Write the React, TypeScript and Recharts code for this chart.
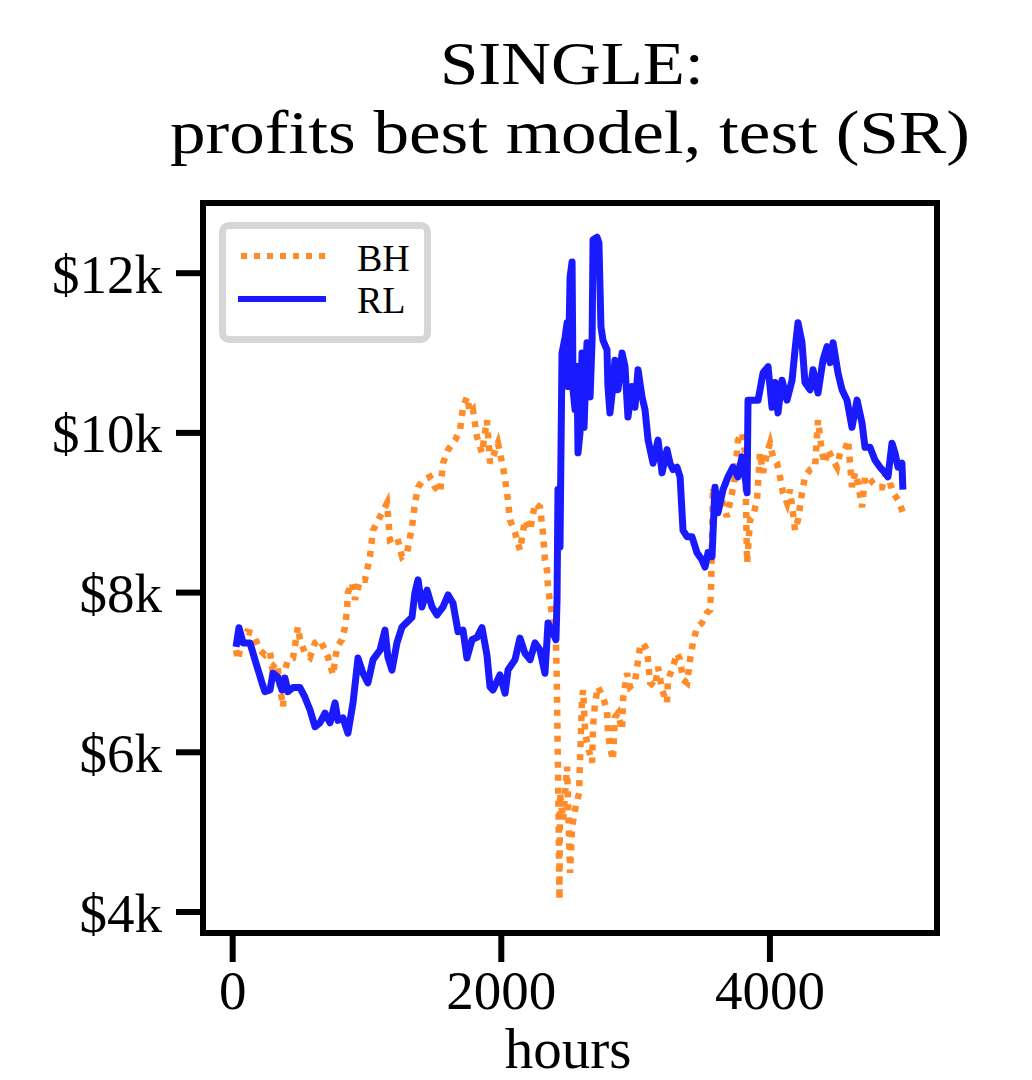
import React from 'react';
import { LineChart, Line, XAxis, YAxis } from 'recharts';

const FONT = '"Liberation Serif", "Times New Roman", serif';
const BH_COLOR = '#ff8c28';
const RL_COLOR = '#1a1aff';

// RL agent portfolio value
const rlHours = [
  25, 47, 77, 129, 166, 218, 240, 278, 300, 337,
  367, 389, 412, 449, 501, 538, 576, 613, 650, 687,
  725, 762, 784, 821, 858, 896, 933, 970, 1007, 1045,
  1097, 1134, 1156, 1186, 1223, 1261, 1298, 1335, 1357, 1380,
  1409, 1447, 1484, 1521, 1566, 1604, 1640, 1678, 1715, 1744,
  1782, 1819, 1856, 1893, 1916, 1938, 1990, 2028, 2050, 2102,
  2139, 2176, 2214, 2251, 2288, 2325, 2348, 2385, 2407, 2415,
  2422, 2437, 2452, 2475, 2490, 2497, 2512, 2527, 2534, 2549,
  2564, 2571, 2586, 2601, 2616, 2638, 2661, 2676, 2683, 2713,
  2727, 2742, 2757, 2787, 2794, 2809, 2831, 2846, 2869, 2899,
  2921, 2943, 2973, 2995, 3018, 3048, 3070, 3093, 3130, 3167,
  3197, 3234, 3256, 3279, 3308, 3331, 3353, 3383, 3420, 3457,
  3494, 3517, 3539, 3569, 3591, 3613, 3651, 3688, 3725, 3762,
  3792, 3815, 3830, 3837, 3874, 3912, 3949, 3986, 4016, 4038,
  4060, 4090, 4127, 4165, 4187, 4209, 4239, 4261, 4299, 4321,
  4358, 4395, 4425, 4448, 4470, 4507, 4537, 4574, 4611, 4649,
  4686, 4708, 4745, 4782, 4820, 4857, 4879, 4909, 4931, 4954,
  4983, 4990,
];
const rlValues = [
  7320, 7560, 7370, 7370, 7160, 6870, 6760, 6780, 6990, 6940,
  6780, 6930, 6760, 6810, 6810, 6690, 6530, 6320, 6370, 6490,
  6370, 6620, 6400, 6430, 6240, 6620, 7180, 6990, 6870, 7160,
  7280, 7530, 7190, 7030, 7370, 7570, 7630, 7690, 8000, 8160,
  7820, 8030, 7820, 7720, 7820, 7970, 7870, 7510, 7530, 7180,
  7410, 7440, 7560, 7220, 6820, 6780, 6970, 6740, 7030, 7160,
  7430, 7240, 7160, 7370, 7280, 6990, 7620, 7490, 7410, 7910,
  9290, 8570, 11000, 11200, 11380, 10580, 11950, 12140, 10540, 10290,
  10830, 9750, 10000, 11000, 10070, 11130, 10450, 11160, 12420, 12450,
  12380, 11330, 11160, 11040, 10580, 10250, 10580, 10910, 10540, 11000,
  10830, 10200, 10580, 10320, 10790, 10450, 10290, 9910, 9620, 9910,
  9500, 9790, 9620, 9540, 9570, 9450, 8780, 8700, 8700, 8500,
  8410, 8320, 8500, 8450, 9320, 9000, 9290, 9450, 9570, 9450,
  9700, 9450, 9250, 10410, 10410, 10410, 10750, 10830, 10320, 10630,
  10250, 10660, 10410, 10660, 11040, 11380, 11130, 10630, 10540, 10790,
  10500, 10910, 11080, 10880, 11130, 10750, 10540, 10410, 10070, 10410,
  10120, 9820, 9820, 9660, 9570, 9500, 9450, 9870, 9750, 9570,
  9620, 9290,
];

// buy & hold benchmark
const bhHours = [
  25, 40, 69, 106, 151, 181, 203, 240, 278, 293,
  330, 352, 375, 389, 412, 449, 486, 501, 538, 576,
  613, 650, 687, 710, 747, 777, 814, 836, 851, 858,
  888, 911, 948, 985, 1022, 1045, 1112, 1149, 1171, 1223,
  1261, 1298, 1335, 1357, 1380, 1417, 1469, 1506, 1544, 1566,
  1604, 1656, 1693, 1715, 1745, 1767, 1789, 1819, 1856, 1893,
  1916, 1938, 1975, 2013, 2043, 2065, 2102, 2139, 2176, 2214,
  2251, 2288, 2310, 2325, 2340, 2348, 2363, 2385, 2407, 2415,
  2419, 2422, 2430, 2433, 2437, 2460, 2490, 2497, 2512, 2527,
  2549, 2579, 2586, 2601, 2609, 2624, 2646, 2676, 2683, 2698,
  2720, 2757, 2787, 2794, 2809, 2831, 2846, 2869, 2899, 2906,
  2936, 2958, 2995, 3011, 3033, 3055, 3085, 3108, 3145, 3167,
  3197, 3234, 3241, 3279, 3308, 3331, 3353, 3383, 3405, 3427,
  3457, 3494, 3532, 3554, 3562, 3576, 3606, 3643, 3680, 3718,
  3740, 3762, 3792, 3815, 3830, 3852, 3874, 3904, 3926, 3949,
  3979, 4001, 4023, 4053, 4075, 4098, 4128, 4150, 4187, 4209,
  4239, 4261, 4299, 4336, 4358, 4388, 4410, 4433, 4470, 4500,
  4522, 4559, 4582, 4611, 4634, 4656, 4686, 4708, 4731, 4768,
  4798, 4835, 4872, 4895, 4917, 4954, 4991,
];
const bhValues = [
  7280, 7160, 7410, 7510, 7490, 7370, 7280, 7220, 7260, 7070,
  7120, 6820, 6570, 7030, 7160, 7180, 7570, 7410, 7240, 7190,
  7370, 7410, 7280, 7190, 6970, 7320, 7410, 7570, 7780, 8000,
  8120, 7910, 8160, 8160, 8450, 8780, 9000, 9120, 8660, 8700,
  8450, 8500, 8820, 9120, 9320, 9410, 9450, 9320, 9250, 9620,
  9790, 9910, 10040, 10320, 10450, 10250, 10290, 9950, 9750, 10160,
  9620, 9700, 9870, 9570, 9250, 8910, 8750, 8530, 8910, 8780,
  9120, 9070, 8750, 8410, 8280, 8070, 7870, 7660, 7410, 6740,
  6120, 5820, 4650, 4150, 5490, 5150, 5820, 5370, 4490, 5060,
  5280, 5490, 5900, 6660, 6780, 6240, 6070, 5870, 6320, 6620,
  6820, 6690, 6530, 6240, 6070, 5900, 6440, 6490, 6280, 6660,
  6990, 6820, 6870, 7070, 7320, 7370, 7280, 6870, 6820, 7070,
  6780, 6620, 6910, 7070, 7240, 7160, 6910, 6870, 7160, 7370,
  7570, 7620, 7750, 7780, 8070, 9320, 9000, 9160, 8950, 9250,
  9450, 9910, 10000, 9750, 8370, 8910, 8950, 9160, 9750, 9500,
  9750, 9870, 9700, 9620, 9450, 9250, 9120, 9290, 8780, 8910,
  9250, 9450, 9540, 9570, 10160, 9750, 9620, 9790, 9660, 9570,
  9750, 9790, 9910, 9320, 9500, 9370, 9070, 9450, 9450, 9370,
  9320, 9320, 9570, 9370, 9250, 9160, 9000,
];

const xTicks = [0, 2000, 4000];
const yTicks = [4000, 6000, 8000, 10000, 12000];

const rlData = rlHours.map((h, i) => ({ h, v: rlValues[i] }));
const bhData = bhHours.map((h, i) => ({ h, v: bhValues[i] }));

const tickStyle = { fill: '#000', fontSize: 55, fontFamily: FONT };
const tickLineStyle = { stroke: '#000', strokeWidth: 6 };

export default function App() {
  return (
    <div style={{ position: 'absolute', left: 0, top: 0, width: 1032, height: 1080, background: '#fff' }}>
      <div style={{ position: 'absolute', left: 0, top: 0 }}>
        <LineChart width={1032} height={1080} margin={{ top: 203, right: 95, bottom: 47, left: 0 }}>
          <XAxis
            dataKey="h"
            type="number"
            domain={[-221, 5244]}
            allowDataOverflow
            ticks={xTicks}
            interval={0}
            height={100}
            axisLine={false}
            tickLine={tickLineStyle}
            tickSize={29}
            tickMargin={8}
            tick={tickStyle}
          />
          <YAxis
            type="number"
            domain={[3737, 12879]}
            allowDataOverflow
            ticks={yTicks}
            interval={0}
            width={203}
            axisLine={false}
            tickLine={tickLineStyle}
            tickSize={27}
            tickMargin={14}
            tick={tickStyle}
            tickFormatter={(v: number) => `$${v / 1000}k`}
          />
          <Line
            data={bhData}
            dataKey="v"
            type="linear"
            stroke={BH_COLOR}
            strokeWidth={6.5}
            strokeDasharray="6 7"
            dot={false}
            isAnimationActive={false}
          />
          <Line
            data={rlData}
            dataKey="v"
            type="linear"
            stroke={RL_COLOR}
            strokeWidth={7}
            strokeLinejoin="round"
            dot={false}
            isAnimationActive={false}
          />
        </LineChart>
      </div>

      {/* plot frame */}
      <div
        style={{
          position: 'absolute', left: 200, top: 200, width: 740, height: 736,
          border: '6px solid #000', boxSizing: 'border-box', pointerEvents: 'none',
        }}
      />

      {/* legend */}
      <div
        style={{
          position: 'absolute', left: 219, top: 222, width: 212, height: 121,
          border: '7px solid #d6d6d6', borderRadius: 10, boxSizing: 'border-box', background: '#fff',
        }}
      >
        <svg width={198} height={107} style={{ position: 'absolute', left: 0, top: 0 }}>
          <line x1={15} y1={27} x2={99} y2={27} stroke={BH_COLOR} strokeWidth={6} strokeDasharray="6 7" />
          <line x1={12} y1={70} x2={100} y2={70} stroke={RL_COLOR} strokeWidth={6} />
          <text x={131} y={42} fontSize={38} fontFamily={FONT} fill="#000">BH</text>
          <text x={131} y={84} fontSize={38} fontFamily={FONT} fill="#000">RL</text>
        </svg>
      </div>

      {/* title and axis label */}
      <svg width={1032} height={1080} style={{ position: 'absolute', left: 0, top: 0, pointerEvents: 'none' }}>
        <text x={572} y={84} textAnchor="middle" fontSize={62} textLength={264} lengthAdjust="spacingAndGlyphs" fontFamily={FONT} fill="#000">SINGLE:</text>
        <text x={570} y={153} textAnchor="middle" fontSize={62} textLength={800} lengthAdjust="spacingAndGlyphs" fontFamily={FONT} fill="#000">profits best model, test (SR)</text>
        <text x={568} y={1068} textAnchor="middle" fontSize={57} fontFamily={FONT} fill="#000">hours</text>
      </svg>
    </div>
  );
}
